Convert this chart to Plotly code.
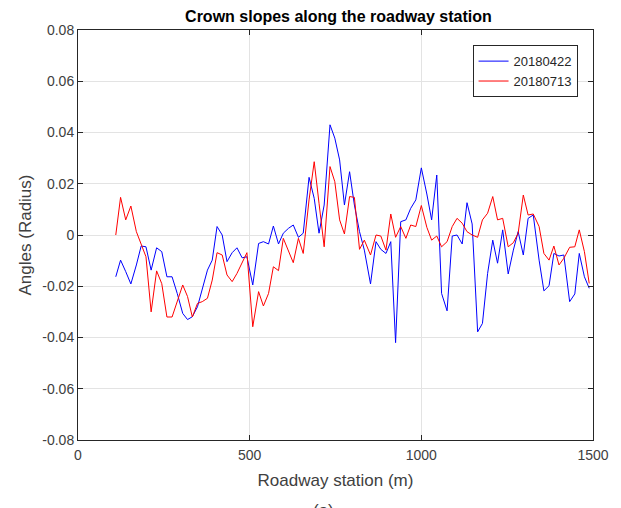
import plotly.graph_objects as go

station = [110, 124, 139, 154, 170, 184, 198, 213, 229, 244, 259, 274, 289, 305, 319, 333, 348, 362, 377, 391,
           405, 420, 434, 449, 463, 478, 492, 509, 526, 540, 555, 569, 584, 598, 613, 627, 642, 656, 673, 688,
           702, 717, 734, 748, 762, 776, 791, 805, 820, 834, 852, 868, 882, 897, 911, 925, 940, 955, 969, 984,
           1000, 1016, 1030, 1045, 1059, 1075, 1090, 1104, 1119, 1133, 1148, 1164, 1178, 1193, 1208, 1222, 1237, 1253, 1268, 1282,
           1297, 1311, 1326, 1343, 1357, 1372, 1386, 1401, 1415, 1432, 1447, 1460, 1475, 1489]

s20180422 = [-0.0163, -0.0098, -0.0143, -0.0191, -0.0117, -0.0043, -0.0046, -0.0137, -0.005, -0.0065,
             -0.0163, -0.0163, -0.0228, -0.0306, -0.033, -0.0319, -0.028, -0.0215, -0.0137, -0.0098,
             0.0033, 0.0, -0.0104, -0.0069, -0.005, -0.0089, -0.0085, -0.0195, -0.0033, -0.0026,
             -0.0035, 0.0035, -0.0035, 0.0007, 0.0026, 0.0039, -0.0009, 0.0007, 0.0225, 0.0143,
             0.0007, 0.0117, 0.043, 0.0378, 0.0293, 0.0117, 0.0247, 0.0117, 0.0013, -0.0059,
             -0.0191, -0.0026, -0.0056, -0.0072, -0.0026, -0.042, 0.0052, 0.0059, 0.0104, 0.0137,
             0.0262, 0.016, 0.0059, 0.0234, -0.0228, -0.0296, -0.0004, 0.0, -0.0035, 0.0126,
             0.0043, -0.0378, -0.0345, -0.015, -0.002, -0.011, 0.002, -0.0152, -0.0059, 0.0013,
             -0.0078, 0.0065, 0.0078, -0.0098, -0.0218, -0.0198, -0.0072, -0.0082, -0.0078, -0.026,
             -0.023, -0.0072, -0.0163, -0.0208]

s20180713 = [0.0, 0.0147, 0.0059, 0.0113, 0.0013, -0.0039, -0.0085, -0.030, -0.014, -0.019,
             -0.032, -0.032, -0.026, -0.0195, -0.024, -0.032, -0.0267, -0.026, -0.0247, -0.0176,
             -0.0069, -0.0078, -0.0156, -0.0182, -0.015, -0.011, -0.0069, -0.0358, -0.0221, -0.0277,
             -0.0228, -0.0124, -0.0139, -0.0013, -0.0065, -0.0108, -0.0013, -0.0072, 0.0137, 0.0286,
             0.0124, -0.0046, 0.0267, 0.0208, 0.0059, 0.0004, 0.015, 0.0147, -0.0056, -0.002,
             -0.0078, 0.0, -0.0004, -0.0059, 0.0082, -0.0009, 0.0033, -0.0013, 0.0039, 0.0033,
             0.0115, 0.003, -0.002, -0.0004, -0.0046, -0.0026, 0.0033, 0.0065, 0.0046, 0.0013,
             0.0, -0.0009, 0.0059, 0.0085, 0.015, 0.0059, 0.0065, -0.0046, -0.003, 0.0007,
             0.0156, 0.0078, 0.0082, 0.0033, -0.0072, -0.0098, -0.0043, -0.0117, -0.0091, -0.0048,
             -0.0046, 0.002, -0.0065, -0.0189]

x_ticks = [0, 500, 1000, 1500]
y_ticks = [-0.08, -0.06, -0.04, -0.02, 0, 0.02, 0.04, 0.06, 0.08]
y_ticktext = ["-0.08", "-0.06", "-0.04", "-0.02", "0", "0.02", "0.04", "0.06", "0.08"]

FONT = "Liberation Sans, Arial, sans-serif"
TXT = "#404040"

fig = go.Figure()
fig.add_trace(go.Scatter(x=station, y=s20180422, mode="lines", name="20180422",
                         line=dict(color="rgb(0,0,255)", width=1)))
fig.add_trace(go.Scatter(x=station, y=s20180713, mode="lines", name="20180713",
                         line=dict(color="rgb(255,0,0)", width=1)))

axis_common = dict(showline=True, linecolor="#262626", linewidth=1, mirror="ticks",
                   ticks="inside", ticklen=5, tickcolor="#262626",
                   showgrid=True, gridcolor="#e3e3e3", gridwidth=1, zeroline=False,
                   tickfont=dict(family=FONT, size=14, color=TXT))

fig.update_layout(
    width=621, height=508,
    margin=dict(l=78, r=24, t=30, b=68),
    paper_bgcolor="white", plot_bgcolor="white",
    title=dict(text="<b>Crown slopes along the roadway station</b>", x=0.545, xanchor="center",
               y=0.968, yanchor="middle", font=dict(family=FONT, size=16, color="#000000")),
    xaxis=dict(range=[0, 1500], tickvals=x_ticks, ticklabelstandoff=2,
               title=dict(text="Roadway station (m)", font=dict(family=FONT, size=17, color=TXT), standoff=12),
               **axis_common),
    yaxis=dict(range=[-0.08, 0.08], tickvals=y_ticks, ticktext=y_ticktext,
               title=dict(text="Angles (Radius)", font=dict(family=FONT, size=17, color=TXT), standoff=6),
               **axis_common),
    legend=dict(x=0.97, y=0.963, xanchor="right", yanchor="top",
                bgcolor="white", bordercolor="#262626", borderwidth=1,
                font=dict(family=FONT, size=13, color="#262626"),
                tracegroupgap=0, itemwidth=30),
    showlegend=True,
)

fig.add_annotation(text="(a)", x=0.476, y=-0.144, xref="paper", yref="paper",
                   showarrow=False, yanchor="top", font=dict(family=FONT, size=17, color=TXT))

fig.write_html("out.html")
